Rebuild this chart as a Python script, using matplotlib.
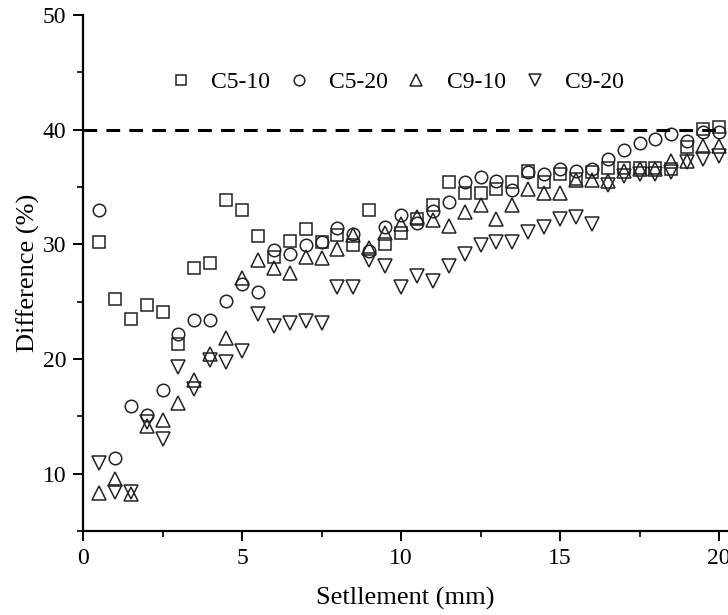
import matplotlib
matplotlib.use("Agg")
import matplotlib.pyplot as plt
from matplotlib.ticker import MultipleLocator

plt.rcParams['font.family'] = ['Liberation Serif', 'DejaVu Serif']

# Settlement steps (mm)
settlement = [0.5, 1.0, 1.5, 2.0, 2.5, 3.0, 3.5, 4.0, 4.5, 5.0,
              5.5, 6.0, 6.5, 7.0, 7.5, 8.0, 8.5, 9.0, 9.5, 10.0,
              10.5, 11.0, 11.5, 12.0, 12.5, 13.0, 13.5, 14.0, 14.5, 15.0,
              15.5, 16.0, 16.5, 17.0, 17.5, 18.0, 18.5, 19.0, 19.5, 20.0]

# Difference (%) per case
c5_10 = [30.2, 25.2, 23.5, 24.7, 24.1, 21.3, 27.9, 28.4, 33.9, 33.0,
         30.7, 28.9, 30.3, 31.3, 30.2, 30.8, 29.9, 33.0, 30.0, 31.0,
         32.2, 33.4, 35.4, 34.5, 34.5, 34.8, 35.4, 36.4, 35.4, 36.1,
         35.7, 36.3, 36.7, 36.7, 36.7, 36.7, 36.6, 38.5, 40.1, 40.2]
c5_20 = [33.0, 11.4, 15.9, 15.1, 17.3, 22.2, 23.4, 23.4, 25.1, 26.5,
         25.8, 29.5, 29.2, 29.9, 30.2, 31.4, 30.9, 29.4, 31.5, 32.6,
         31.9, 32.9, 33.7, 35.4, 35.9, 35.5, 34.7, 36.3, 36.1, 36.6,
         36.4, 36.6, 37.4, 38.2, 38.8, 39.2, 39.6, 39.0, 39.8, 39.8]
c9_10 = [8.3, 9.5, 8.2, 14.2, 14.7, 16.2, 18.2, 20.4, 21.8, 27.1,
         28.6, 27.9, 27.5, 28.9, 28.8, 29.6, 30.8, 29.7, 31.0, 31.8,
         32.4, 32.1, 31.6, 32.8, 33.4, 32.2, 33.4, 34.8, 34.5, 34.5,
         35.6, 35.6, 35.5, 36.4, 36.6, 36.6, 37.3, 37.3, 38.6, 38.6]
c9_20 = [10.9, 8.4, 8.4, 14.5, 13.0, 19.3, 17.4, 19.9, 19.7, 20.7,
         23.9, 22.9, 23.1, 23.3, 23.1, 26.3, 26.3, 28.6, 28.1, 26.3,
         27.2, 26.8, 28.1, 29.2, 29.9, 30.2, 30.2, 31.1, 31.5, 32.2,
         32.4, 31.8, 35.2, 36.0, 36.1, 36.1, 36.3, 37.2, 37.4, 37.7]

series = [("C5-10", c5_10, "s", 8.0),
          ("C5-20", c5_20, "o", 9.0),
          ("C9-10", c9_10, "^", 9.5),
          ("C9-20", c9_20, "v", 9.5)]

reference_level = 40

fig = plt.figure(figsize=(7.28, 6.15), dpi=100)
ax = fig.add_axes([0.114, 0.1366, 0.886, 0.839])

for label, values, marker, size in series:
    ax.plot(settlement, values, linestyle="none", marker=marker,
            markersize=size, markerfacecolor="none", markeredgecolor="#222222",
            markeredgewidth=1.1, label=label, clip_on=False)

ax.plot([0, 20], [reference_level, reference_level], color="black",
        linewidth=2.2, dashes=(4.5, 3))

ax.set_xlim(0, 20.28)
ax.set_ylim(5, 50)
ax.xaxis.set_major_locator(MultipleLocator(5))
ax.xaxis.set_minor_locator(MultipleLocator(2.5))
ax.yaxis.set_major_locator(MultipleLocator(10))
ax.yaxis.set_minor_locator(MultipleLocator(5))
ax.set_yticks([10, 20, 30, 40, 50])

for side in ("top", "right"):
    ax.spines[side].set_visible(False)
for side in ("left", "bottom"):
    ax.spines[side].set_linewidth(1.6)

ax.tick_params(which="major", direction="out", length=7, width=1.4,
               labelsize=17, pad=5)
ax.tick_params(which="minor", direction="out", length=4, width=1.2)

ax.set_xlabel("Setllement (mm)", fontsize=19, labelpad=13)
ax.set_ylabel("Difference (%)", fontsize=19, labelpad=2)

leg = ax.legend(loc="upper left", bbox_to_anchor=(0.1, 0.932), ncol=4,
                frameon=False, fontsize=17, markerscale=0.85,
                handlelength=1.0, handletextpad=0.8, columnspacing=0.7)

fig.savefig("out.png", dpi=100)
